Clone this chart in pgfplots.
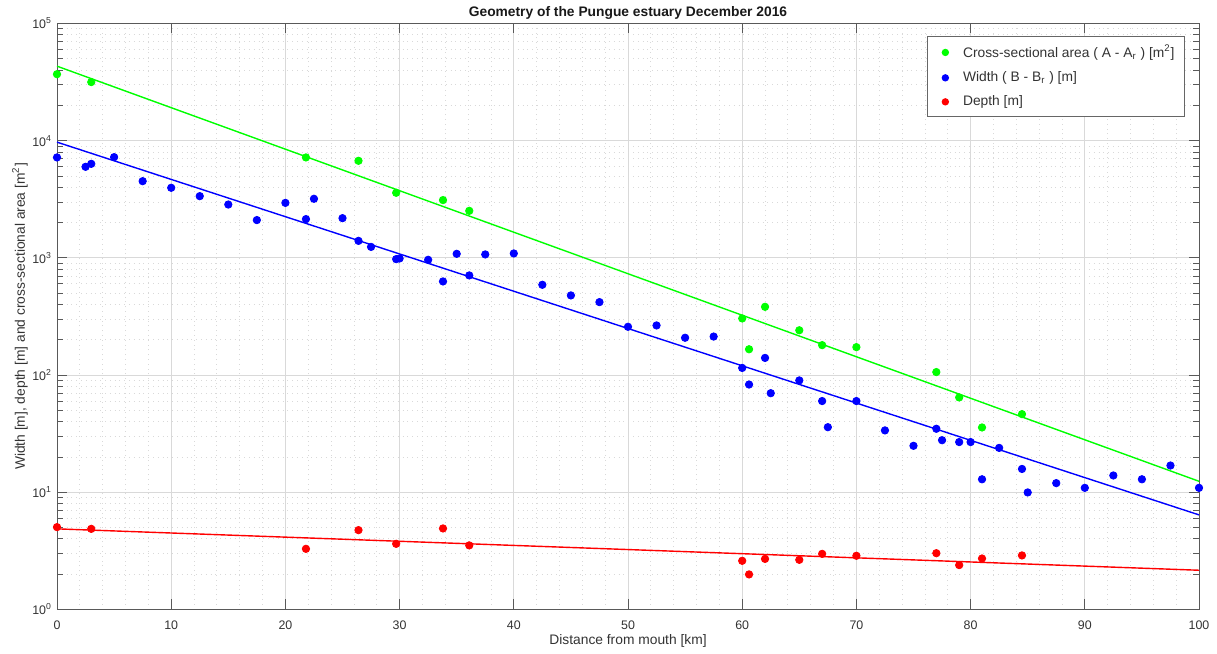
\documentclass[border=0pt]{standalone}
\usepackage{pgfplots}
\pgfplotsset{compat=1.18}
\usepackage{fontspec}
\setmainfont{Liberation Sans}

\definecolor{ptgreen}{rgb}{0,1,0}
\definecolor{ptblue}{rgb}{0,0,1}
\definecolor{ptred}{rgb}{1,0,0}

% dot in the legend, with MATLAB-like room around it
\pgfplotsset{dotlegend/.style={legend image code/.code={%
    \path[draw=none, fill=none] (-5.85pt,0pt) -- (6.85pt,0pt);
    \fill[##1, draw=none] (0pt,0pt) circle[radius=1.85pt];}}}

% cross-sectional area A - A_r [m^2]
\pgfplotstableread{
x y
0 36900
3 31600
21.8 7190
26.4 6730
29.7 3590
33.8 3110
36.1 2518
60 304
60.6 166
62 382
65 241
67 180
70 173
77 106
79 64.4
81 35.7
84.5 46.4
}\areadata

% width B - B_r [m]
\pgfplotstableread{
x y
0 7190
2.5 5980
3 6340
5 7230
7.5 4510
10 3960
12.5 3360
15 2850
17.5 2100
20 2944
21.8 2140
22.5 3190
25 2180
26.4 1396
27.5 1240
29.7 975
30 988
32.5 962
33.8 629
35 1082
36.1 708
37.5 1069
40 1090
42.5 589
45 478
47.5 419
50 258
52.5 265
55 208
57.5 213
60 115
60.6 83
62 140
62.5 70
65 90
67 60
67.5 35.9
70 60
72.5 33.7
75 24.9
77 34.8
77.5 27.8
79 26.8
80 26.8
81 12.9
82.5 23.9
84.5 15.8
85 9.96
87.5 11.96
90 10.9
92.5 13.9
95 12.9
97.5 16.9
100 10.9
}\widthdata

% depth [m]
\pgfplotstableread{
x y
0 5.04
3 4.87
21.8 3.29
26.4 4.75
29.7 3.63
33.8 4.91
36.1 3.52
60 2.60
60.6 1.99
62 2.70
65 2.65
67 2.98
70 2.87
77 3.02
79 2.39
81 2.72
84.5 2.89
}\depthdata

\begin{document}
\begin{tikzpicture}
\begin{axis}[
    scale only axis, width=571pt, height=293pt,
    clip=false,
    xmin=0, xmax=100,
    ymode=log, ymin=1, ymax=1e5,
    xtick={0,10,...,100}, minor x tick num=4,
    ytick={1,10,100,1000,10000,100000},
    yticklabels={10\textsuperscript{0},10\textsuperscript{1},10\textsuperscript{2},10\textsuperscript{3},10\textsuperscript{4},10\textsuperscript{5}},
    /pgf/number format/assume math mode=true,
    grid=both,
    major grid style={black!15, line width=0.4pt},
    minor grid style={black!15, dotted, line width=0.4pt},
    tick align=inside, tick pos=both,
    major tick length=5pt, minor tick length=3pt,
    minor x tick style={draw=none},
    axis line style={black!65},
    every tick/.style={black!65, line width=0.4pt},
    tick label style={font=\fontsize{6.2}{7}\selectfont, text=black!80},
    xticklabel style={yshift=-2pt},
    yticklabel style={xshift=1pt},
    xlabel={Distance from mouth [km]},
    ylabel={Width [m], depth [m] and cross-sectional area [m\textsuperscript{2}]},
    label style={font=\fontsize{6.9}{8}\selectfont, text=black!80},
    xlabel style={at={(axis description cs:0.5,-0.0529)}, anchor=center},
    ylabel style={at={(axis description cs:-0.0324,0.5)}, anchor=center},
    legend style={at={(0.9877,0.9783)}, anchor=north east, draw=black!60,
        font=\fontsize{6.9}{8}\selectfont, text=black!80, row sep=1.5pt},
    legend cell align=left,
]
\addplot[only marks, mark=*, mark size=1.85pt, color=ptgreen, dotlegend] table {\areadata};
\addlegendentry{Cross-sectional area ( A - A\textsubscript{r} ) [m\textsuperscript{2}]}
\addplot[only marks, mark=*, mark size=1.85pt, color=ptblue, dotlegend] table {\widthdata};
\addlegendentry{Width ( B - B\textsubscript{r} ) [m]}
\addplot[only marks, mark=*, mark size=1.85pt, color=ptred, dotlegend] table {\depthdata};
\addlegendentry{Depth [m]}
% fitted exponential lines
\addplot[forget plot, ptgreen, line width=0.7pt] coordinates {(0,43200) (100,12.4)};
\addplot[forget plot, ptblue, line width=0.7pt] coordinates {(0,9710) (100,6.41)};
\addplot[forget plot, ptred, line width=0.7pt] coordinates {(0,4.87) (100,2.16)};
\node[font=\bfseries\fontsize{6.9}{8}\selectfont, text=black!90] at (rel axis cs:0.5,1.0176) {Geometry of the Pungue estuary December 2016};
\end{axis}
\path ([shift={(-28.5pt,-21.85pt)}]current axis.south west) rectangle ([shift={(9pt,11.65pt)}]current axis.north east);
\end{tikzpicture}
\end{document}
